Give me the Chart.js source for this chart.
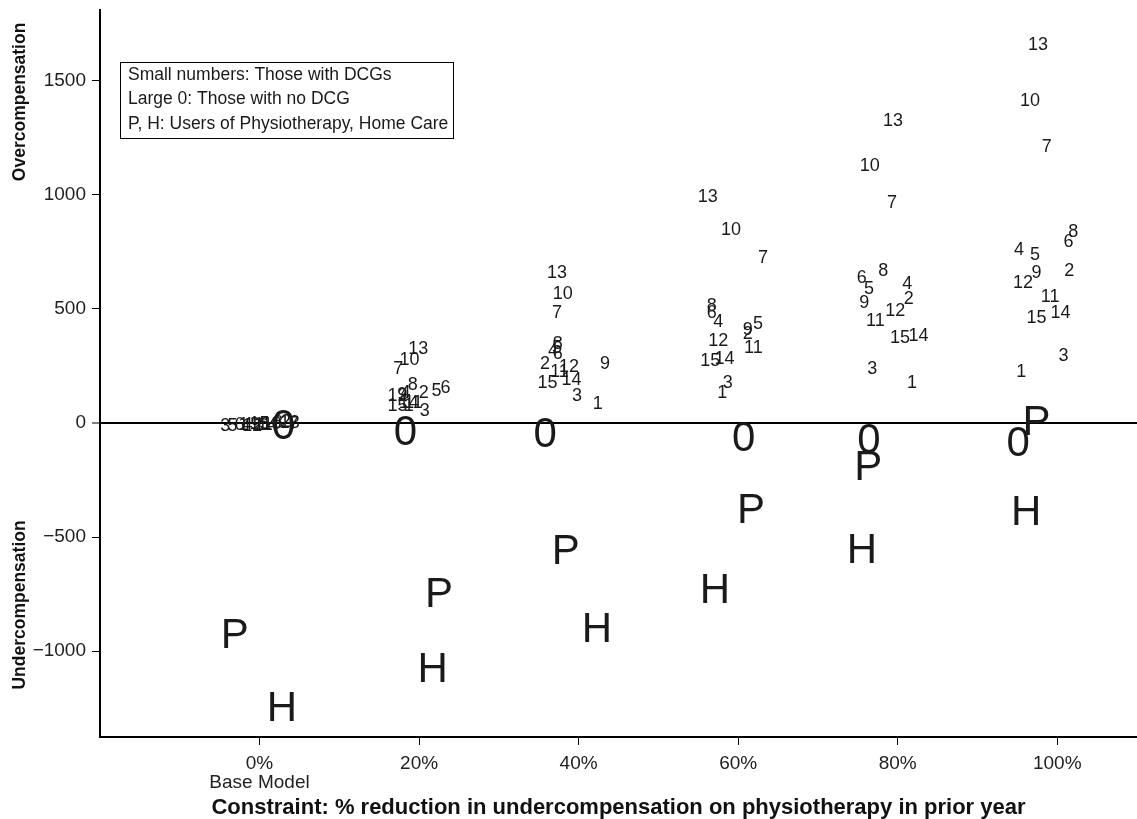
<!DOCTYPE html>
<html>
<head>
<meta charset="utf-8">
<script src="https://cdn.jsdelivr.net/npm/chart.js@4.4.0/dist/chart.umd.min.js"></script>
<style>
html, body { margin: 0; padding: 0; background: #fff; }
</style>
</head>
<body>
<canvas id="chart" width="1137" height="819"></canvas>
<script>
// tick values and labels
var xTickValues = [0, 20, 40, 60, 80, 100];
var xTickLabels = [['0%', 'Base Model'], '20%', '40%', '60%', '80%', '100%'];
var yTickValues = [-1000, -500, 0, 500, 1000, 1500];

// DCG numbers 1..15, position per constraint level (x = % constraint, y = over/under compensation)
var dcgLabels = ['1', '2', '3', '4', '5', '6', '7', '8', '9', '10', '11', '12', '13', '14', '15'];
var baseX = [-2.0, 3.3, -4.3, -1.5, -3.4, -2.5, 4.3, 2.3, -0.5, 1.5, 0.5, -0.9, 3.8, 1.0, 0.0];
var baseY = [-4, 12, -6, -2, -5, -3, 4, 6, -4, 2, -1, -6, 8, -2, 0];
var pct20X = [18.7, 20.6, 20.7, 18.3, 22.2, 23.3, 17.4, 19.2, 17.9, 18.8, 19.3, 17.3, 19.9, 18.7, 17.3];
var pct20Y = [83, 140, 61, 140, 145, 158, 241, 171, 127, 281, 96, 123, 329, 92, 83];
var pct40X = [42.4, 35.8, 39.8, 36.8, 37.3, 37.4, 37.3, 37.4, 43.3, 38.0, 37.6, 38.8, 37.3, 39.1, 36.1];
var pct40Y = [88, 263, 123, 320, 333, 307, 487, 351, 263, 570, 232, 250, 662, 197, 180];
var pct60X = [58.0, 61.2, 58.7, 57.5, 62.5, 56.7, 63.1, 56.7, 61.2, 59.1, 61.9, 57.5, 56.2, 58.3, 56.5];
var pct60Y = [136, 395, 180, 447, 439, 487, 728, 518, 412, 851, 333, 364, 996, 285, 276];
var pct80X = [81.8, 81.4, 76.8, 81.2, 76.4, 75.5, 79.3, 78.2, 75.8, 76.5, 77.2, 79.7, 79.4, 82.6, 80.3];
var pct80Y = [180, 548, 241, 614, 592, 640, 969, 675, 531, 1132, 452, 496, 1329, 386, 377];
var pct100X = [95.5, 101.5, 100.8, 95.2, 97.2, 101.4, 98.7, 102.0, 97.4, 96.6, 99.1, 95.7, 97.6, 100.4, 97.4];
var pct100Y = [232, 675, 298, 763, 741, 800, 1215, 846, 662, 1417, 557, 618, 1662, 487, 465];

// those with no DCG (large 0), physiotherapy users (P), home care users (H)
var noDcgX = [3.0, 18.3, 35.8, 60.7, 76.4, 95.1];
var noDcgY = [-4, -31, -39, -57, -66, -79];
var physioX = [-3.1, 22.5, 38.4, 61.6, 76.3, 97.4];
var physioY = [-921, -741, -553, -373, -184, 13];
var homeX = [2.8, 21.7, 42.3, 57.1, 75.5, 96.1];
var homeY = [-1241, -1070, -895, -724, -548, -382];

var legendLines = ['Small numbers: Those with DCGs', 'Large 0: Those with no DCG', 'P, H: Users of Physiotherapy, Home Care'];
var xTitle = 'Constraint: % reduction in undercompensation on physiotherapy in prior year';

var FONT = "'Liberation Sans', Arial, Helvetica, sans-serif";

function toPoints(xs, ys) {
  return xs.map(function (x, i) { return { x: x, y: ys[i] }; });
}
function repeat(txt, n) {
  var a = [];
  for (var i = 0; i < n; i++) a.push(txt);
  return a;
}

function dcgSet(xs, ys) {
  return { data: toPoints(xs, ys), pointRadius: 0, markText: dcgLabels, markSize: 18 };
}

var datasets = [
  dcgSet(baseX, baseY),
  dcgSet(pct20X, pct20Y),
  dcgSet(pct40X, pct40Y),
  dcgSet(pct60X, pct60Y),
  dcgSet(pct80X, pct80Y),
  dcgSet(pct100X, pct100Y),
  { data: toPoints(noDcgX, noDcgY), pointRadius: 0, markText: repeat('0', noDcgX.length), markSize: 42 },
  { data: toPoints(physioX, physioY), pointRadius: 0, markText: repeat('P', physioX.length), markSize: 42 },
  { data: toPoints(homeX, homeY), pointRadius: 0, markText: repeat('H', homeX.length), markSize: 42 }
];

// draws each point as its text label, centred on the point
var textMarks = {
  id: 'textMarks',
  afterDatasetsDraw: function (chart) {
    var ctx = chart.ctx;
    chart.data.datasets.forEach(function (ds, i) {
      var meta = chart.getDatasetMeta(i);
      ctx.save();
      ctx.font = ds.markSize + 'px ' + FONT;
      ctx.fillStyle = '#1a1a1a';
      ctx.textAlign = 'center';
      ctx.textBaseline = 'alphabetic';
      meta.data.forEach(function (pt, j) {
        ctx.fillText(ds.markText[j], pt.x, pt.y + ds.markSize * 0.358);
      });
      ctx.restore();
    });
  }
};

// the two y titles and the note box
var extras = {
  id: 'extras',
  afterDraw: function (chart) {
    var ctx = chart.ctx;
    var area = chart.chartArea;
    var y = chart.scales.y;
    ctx.save();
    ctx.font = 'bold 17.5px ' + FONT;
    ctx.fillStyle = '#111';
    ctx.textAlign = 'center';
    ctx.textBaseline = 'middle';
    [['Overcompensation', 1408], ['Undercompensation', -798]].forEach(function (t) {
      ctx.save();
      ctx.translate(20, y.getPixelForValue(t[1]));
      ctx.rotate(-Math.PI / 2);
      ctx.fillText(t[0], 0, 0);
      ctx.restore();
    });

    var bx = area.left + 20, by = area.top + 52;
    ctx.strokeStyle = '#000';
    ctx.lineWidth = 1;
    ctx.strokeRect(bx + 0.5, by + 0.5, 333, 76);
    ctx.font = '17.5px ' + FONT;
    ctx.fillStyle = '#1a1a1a';
    ctx.textAlign = 'left';
    legendLines.forEach(function (line, i) {
      ctx.fillText(line, bx + 8, by + 13 + i * 24.5);
    });
    ctx.restore();
  }
};

new Chart(document.getElementById('chart'), {
  type: 'scatter',
  data: { datasets: datasets },
  options: {
    responsive: false,
    animation: false,
    layout: { padding: { top: 10, left: 0, right: 0, bottom: 0 } },
    plugins: { legend: { display: false }, tooltip: { enabled: false } },
    scales: {
      x: {
        type: 'linear',
        min: -20,
        max: 110,
        afterBuildTicks: function (s) { s.ticks = xTickValues.map(function (v) { return { value: v }; }); },
        afterFit: function (s) { s.height = 82; s.paddingLeft = 0; s.paddingRight = 0; },
        ticks: {
          autoSkip: false,
          maxRotation: 0,
          padding: 9,
          color: '#222',
          font: { family: FONT, size: 19, lineHeight: 1 },
          callback: function (v, i) { return xTickLabels[i]; }
        },
        grid: { drawOnChartArea: false, drawTicks: true, tickLength: 8, tickColor: '#000', tickWidth: 1 },
        border: { display: true, color: '#000', width: 2 },
        title: {
          display: true,
          text: xTitle,
          color: '#111',
          font: { family: FONT, size: 22, weight: 'bold', lineHeight: 1 },
          padding: { top: 0, bottom: 0 }
        }
      },
      y: {
        type: 'linear',
        min: -1377,
        max: 1811,
        afterBuildTicks: function (s) { s.ticks = yTickValues.map(function (v) { return { value: v }; }); },
        afterFit: function (s) { s.width = 100; s.paddingTop = 0; s.paddingBottom = 0; },
        ticks: {
          padding: 6,
          color: '#222',
          font: { family: FONT, size: 19, lineHeight: 1 },
          callback: function (v) { return v < 0 ? '\u2212' + Math.abs(v) : String(v); }
        },
        grid: {
          drawOnChartArea: true,
          drawTicks: true,
          tickLength: 8,
          tickColor: '#000',
          tickWidth: 1,
          color: function (c) { return c.tick && c.tick.value === 0 ? '#000' : 'rgba(0,0,0,0)'; },
          lineWidth: function (c) { return c.tick && c.tick.value === 0 ? 2 : 1; }
        },
        border: { display: true, color: '#000', width: 2 }
      }
    }
  },
  plugins: [textMarks, extras]
});
</script>
</body>
</html>
